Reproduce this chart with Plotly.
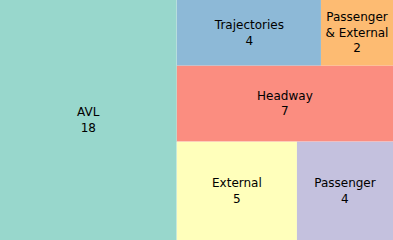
import plotly.graph_objects as go

# Data
categories = ["AVL", "Trajectories", "Passenger\n& External", "Headway", "External", "Passenger"]
counts = [18, 4, 2, 7, 5, 4]
# grouping used for the tiling (dice / slice nesting)
groups = ["", "top", "top", "", "bottom", "bottom"]
colors = ["#98d7cc", "#8db9d7", "#fdbb72", "#fb8d80", "#ffffbb", "#c4c1de"]

ids, labels, parents, values, texts, mcolors = [], [], [], [], [], []
total = sum(counts)
ids.append("all"); labels.append(""); parents.append(""); values.append(total); texts.append(""); mcolors.append("#ffffff")
rest_total = sum(c for c, n in zip(counts, categories) if n != "AVL")

# AVL first
ids.append("AVL"); labels.append("AVL"); parents.append("all"); values.append(counts[0])
texts.append(f"AVL<br>{counts[0]}"); mcolors.append(colors[0])
ids.append("rest"); labels.append(""); parents.append("all"); values.append(rest_total); texts.append(""); mcolors.append("#ffffff")

order = []
for i in range(1, len(categories)):
    g = groups[i]
    if g == "":
        order.append(("item", i))
    elif ("group", g) not in order:
        order.append(("group", g))

for kind, v in order:
    if kind == "item":
        i = v
        ids.append(categories[i]); labels.append(categories[i]); parents.append("rest")
        values.append(counts[i]); texts.append(categories[i].replace("\n", "<br>") + f"<br>{counts[i]}")
        mcolors.append(colors[i])
    else:
        g = v
        members = [i for i in range(len(categories)) if groups[i] == g]
        ids.append(g); labels.append(""); parents.append("rest")
        values.append(sum(counts[i] for i in members)); texts.append(""); mcolors.append("#ffffff")
        for i in members:
            ids.append(categories[i]); labels.append(categories[i]); parents.append(g)
            values.append(counts[i]); texts.append(categories[i].replace("\n", "<br>") + f"<br>{counts[i]}")
            mcolors.append(colors[i])

fig = go.Figure(go.Treemap(
    ids=ids,
    labels=labels,
    parents=parents,
    values=values,
    text=texts,
    texttemplate="%{text}",
    textposition="middle center",
    branchvalues="total",
    sort=False,
    tiling=dict(packing="slice-dice", pad=0),
    marker=dict(colors=mcolors, line=dict(width=0), pad=dict(t=0, l=0, r=0, b=0)),
    pathbar=dict(visible=False),
    textfont=dict(family="DejaVu Sans", size=12, color="#000000"),
    hoverinfo="none",
    domain=dict(x=[0, 1], y=[0, 1]),
))

fig.update_layout(
    width=393, height=240,
    margin=dict(l=0, r=0, t=0, b=0, pad=0),
    paper_bgcolor="white",
    uniformtext=dict(minsize=12, mode="show"),
)

fig.write_html(
    "out.html",
    config={"displayModeBar": False, "staticPlot": True},
    post_script="document.body.style.margin='0px';document.body.style.overflow='hidden';",
)
